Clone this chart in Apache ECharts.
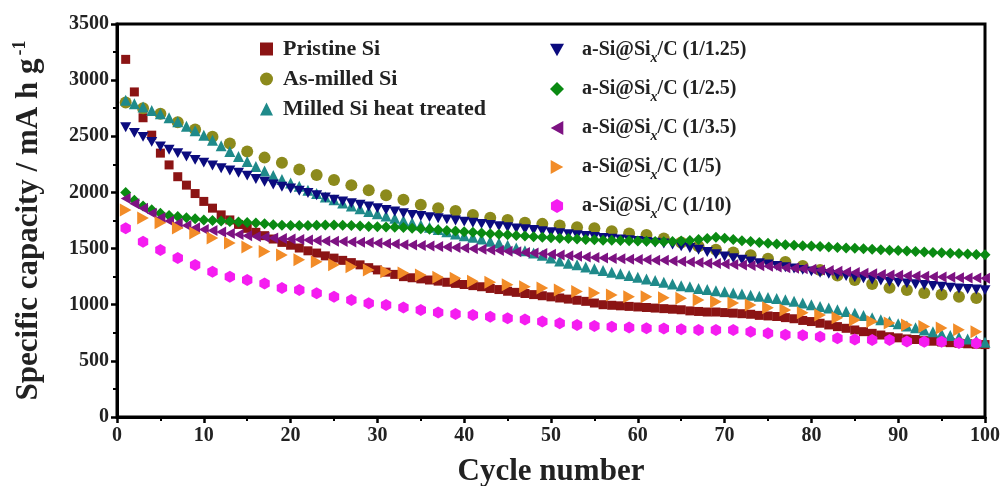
<!DOCTYPE html>
<html>
<head>
<meta charset="utf-8">
<script src="https://cdn.jsdelivr.net/npm/echarts@6/dist/echarts.min.js"></script>
<style>
  html, body { margin: 0; padding: 0; background: #fff; }
  #chart { width: 1005px; height: 486px; }
</style>
</head>
<body>
<div id="chart"></div>
<script>
// cycle numbers: every cycle, and every second cycle for the sparser series
const cycles = Array.from({ length: 100 }, (_, i) => i + 1)
const oddCycles = cycles.filter(c => c % 2 === 1)

const xTicks = [0, 10, 20, 30, 40, 50, 60, 70, 80, 90, 100]
const yTicks = [0, 500, 1000, 1500, 2000, 2500, 3000, 3500]

// capacity values (mA h g-1)
const pristineSi = [
  3185, 2895, 2665, 2510, 2350, 2245, 2140, 2065, 1990, 1920,
  1860, 1800, 1755, 1715, 1680, 1645, 1615, 1585, 1555, 1530,
  1505, 1480, 1460, 1435, 1415, 1395, 1375, 1355, 1330, 1310,
  1290, 1270, 1250, 1240, 1230, 1220, 1210, 1200, 1190, 1180,
  1170, 1160, 1145, 1135, 1120, 1110, 1100, 1090, 1080, 1070,
  1060, 1050, 1040, 1030, 1015, 1000, 995, 990, 985, 980,
  975, 970, 965, 960, 955, 945, 940, 935, 935, 930,
  925, 920, 915, 905, 900, 895, 885, 875, 860, 850,
  835, 820, 805, 790, 775, 760, 745, 730, 715, 705,
  695, 690, 680, 675, 668, 662, 657, 652, 648, 645
]
const asMilledSi = [
  2800, 2750, 2700, 2625, 2560, 2495, 2435, 2365, 2310, 2265,
  2205, 2155, 2110, 2065, 2020, 1975, 1935, 1890, 1860, 1835,
  1800, 1775, 1755, 1730, 1720, 1705, 1690, 1680, 1655, 1635,
  1620, 1590, 1555, 1520, 1490, 1465, 1440, 1410, 1380, 1345,
  1310, 1260, 1220, 1185, 1150, 1130, 1105, 1090, 1070, 1060
]
const milledHeatTreated = [
  2820, 2790, 2760, 2730, 2700, 2665, 2630, 2590, 2550, 2510,
  2465, 2415, 2365, 2320, 2275, 2230, 2190, 2150, 2115, 2085,
  2055, 2020, 1990, 1960, 1935, 1905, 1880, 1855, 1830, 1810,
  1790, 1770, 1750, 1730, 1710, 1690, 1670, 1650, 1630, 1615,
  1600, 1585, 1565, 1550, 1530, 1505, 1480, 1460, 1440, 1415,
  1390, 1370, 1355, 1335, 1320, 1305, 1290, 1275, 1260, 1245,
  1230, 1215, 1200, 1185, 1170, 1160, 1145, 1135, 1125, 1115,
  1105, 1095, 1085, 1075, 1065, 1055, 1045, 1030, 1015, 1000,
  985, 970, 955, 940, 925, 905, 885, 865, 850, 830,
  810, 795, 775, 760, 740, 725, 710, 695, 680, 665
]
const ratio1_125 = [
  2580, 2530, 2495, 2450, 2410, 2380, 2350, 2320, 2290, 2265,
  2240, 2215, 2195, 2175, 2150, 2120, 2095, 2070, 2050, 2035,
  2015, 1995, 1975, 1955, 1935, 1920, 1905, 1890, 1875, 1860,
  1845, 1830, 1815, 1800, 1790, 1780, 1770, 1760, 1750, 1740,
  1730, 1720, 1710, 1700, 1690, 1680, 1672, 1665, 1655, 1645,
  1636, 1628, 1620, 1612, 1603, 1595, 1588, 1581, 1574, 1567,
  1560, 1553, 1545, 1535, 1520, 1505, 1490, 1470, 1450, 1430,
  1415, 1400, 1385, 1370, 1358, 1346, 1334, 1322, 1310, 1297,
  1285, 1275, 1265, 1255, 1245, 1235, 1225, 1215, 1205, 1197,
  1190, 1182, 1175, 1167, 1160, 1152, 1145, 1140, 1135, 1130
]
const ratio1_25 = [
  2000, 1930, 1880, 1845, 1815, 1795, 1785, 1775, 1765, 1755,
  1750, 1745, 1740, 1737, 1733, 1727, 1720, 1713, 1708, 1705,
  1705, 1706, 1708, 1710, 1710, 1708, 1705, 1700, 1697, 1695,
  1693, 1690, 1687, 1682, 1677, 1672, 1667, 1662, 1656, 1650,
  1645, 1639, 1633, 1628, 1622, 1616, 1611, 1605, 1601, 1597,
  1593, 1589, 1585, 1581, 1578, 1575, 1573, 1571, 1569, 1567,
  1565, 1563, 1561, 1563, 1567, 1572, 1580, 1590, 1600, 1592,
  1580, 1570, 1562, 1555, 1548, 1541, 1535, 1530, 1526, 1522,
  1518, 1514, 1510, 1506, 1502, 1498, 1494, 1490, 1486, 1482,
  1478, 1474, 1470, 1466, 1462, 1458, 1455, 1451, 1448, 1445
]
const ratio1_35 = [
  1945, 1900, 1860, 1815, 1775, 1745, 1725, 1705, 1685, 1670,
  1660, 1648, 1635, 1625, 1615, 1607, 1600, 1595, 1590, 1585,
  1580, 1576, 1572, 1568, 1565, 1562, 1559, 1556, 1553, 1550,
  1545, 1540, 1535, 1531, 1527, 1522, 1518, 1514, 1509, 1505,
  1499, 1494, 1488, 1483, 1477, 1472, 1466, 1460, 1455, 1449,
  1443, 1437, 1431, 1425, 1420, 1415, 1412, 1409, 1406, 1403,
  1400, 1397, 1395, 1390, 1385, 1380, 1375, 1370, 1366, 1362,
  1358, 1354, 1350, 1346, 1342, 1336, 1330, 1325, 1320, 1315,
  1309, 1304, 1298, 1292, 1287, 1281, 1276, 1270, 1265, 1262,
  1259, 1256, 1253, 1250, 1247, 1244, 1241, 1239, 1237, 1235
]
const ratio1_5 = [
  1843, 1772, 1730, 1683, 1639, 1594, 1550, 1515, 1475, 1443,
  1400, 1383, 1355, 1338, 1310, 1294, 1282, 1265, 1245, 1235,
  1210, 1200, 1178, 1160, 1148, 1132, 1117, 1104, 1087, 1072,
  1070, 1062, 1058, 1042, 1027, 1015, 997, 972, 953, 928,
  908, 884, 864, 850, 837, 820, 805, 792, 776, 760
]
const ratio1_10 = [
  1680, 1561, 1487, 1415, 1354, 1294, 1250, 1220, 1190, 1148,
  1131, 1102, 1071, 1042, 1013, 997, 975, 953, 930, 917,
  908, 893, 879, 868, 850, 834, 820, 810, 804, 798,
  790, 788, 781, 775, 775, 775, 760, 745, 732, 728,
  715, 701, 690, 686, 685, 672, 671, 670, 658, 656
]

const FONT = '"Liberation Serif", "Times New Roman", serif'
const HEXAGON = 'path://M0,-1L0.866,-0.5L0.866,0.5L0,1L-0.866,0.5L-0.866,-0.5Z'
const TRI_DOWN = 'path://M-1,-0.9L1,-0.9L0,0.9Z'
const TRI_LEFT = 'path://M0.9,-1L0.9,1L-0.9,0Z'
const TRI_RIGHT = 'path://M-0.9,-1L-0.9,1L0.9,0Z'

const seriesDefs = [
  { name: 'Pristine Si', x: cycles, y: pristineSi, color: '#8b1414', symbol: 'rect', size: 9 },
  { name: 'As-milled Si', x: oddCycles, y: asMilledSi, color: '#8c8a1c', symbol: 'circle', size: 12 },
  { name: 'Milled Si heat treated', x: cycles, y: milledHeatTreated, color: '#1f8a8a', symbol: 'triangle', size: 11 },
  { name: 'a-Si@Six/C (1/1.25)', x: cycles, y: ratio1_125, color: '#0b0b7e', symbol: TRI_DOWN, size: 11 },
  { name: 'a-Si@Six/C (1/2.5)', x: cycles, y: ratio1_25, color: '#0a8a12', symbol: 'diamond', size: 11 },
  { name: 'a-Si@Six/C (1/3.5)', x: cycles, y: ratio1_35, color: '#7d1282', symbol: TRI_LEFT, size: 11 },
  { name: 'a-Si@Six/C (1/5)', x: oddCycles, y: ratio1_5, color: '#f28c28', symbol: TRI_RIGHT, size: 13 },
  { name: 'a-Si@Six/C (1/10)', x: oddCycles, y: ratio1_10, color: '#f51cf0', symbol: HEXAGON, size: 12 }
]

const chart = echarts.init(document.getElementById('chart'))

const labelStyle = {
  fontFamily: FONT,
  fontWeight: 'bold',
  color: '#222'
}

chart.setOption({
  animation: false,
  backgroundColor: '#fff',
  grid: {
    left: 117,
    right: 20,
    top: 24,
    bottom: 69,
    outerBoundsMode: 'none',
    show: true,
    borderColor: '#000',
    borderWidth: 3
  },
  legend: [
    {
      data: seriesDefs.slice(0, 3).map(s => s.name),
      orient: 'vertical',
      left: 255,
      top: 33,
      itemWidth: 13,
      itemHeight: 13,
      itemGap: 8,
      formatter: name => '{a|' + name + '}',
      textStyle: {
        ...labelStyle,
        fontSize: 22,
        rich: { a: { ...labelStyle, fontSize: 22, lineHeight: 23, padding: [0, 0, 0, 5] } }
      }
    },
    {
      data: seriesDefs.slice(3).map(s => s.name),
      orient: 'vertical',
      left: 545,
      top: 30,
      itemWidth: 14,
      itemHeight: 14,
      itemGap: 9,
      formatter: name => {
        const rest = name.replace('a-Si@Six', '')
        return '{a|a-Si@Si}{x|x}{b|' + rest + '}'
      },
      textStyle: {
        ...labelStyle,
        fontSize: 20,
        rich: {
          a: { ...labelStyle, fontSize: 20, lineHeight: 26, padding: [0, 0, 0, 13] },
          x: { ...labelStyle, fontSize: 14, fontStyle: 'italic', lineHeight: 26, padding: [16, 0, 0, 0] },
          b: { ...labelStyle, fontSize: 20, lineHeight: 26 }
        }
      }
    }
  ],
  xAxis: {
    type: 'value',
    min: 0,
    max: 100,
    interval: 10,
    name: 'Cycle number',
    nameLocation: 'middle',
    nameGap: 38,
    nameTextStyle: { ...labelStyle, fontSize: 31, lineHeight: 34 },
    axisLine: { lineStyle: { color: '#000', width: 3 } },
    axisTick: { inside: false, length: 6, lineStyle: { color: '#000', width: 2.5 } },
    minorTick: { show: true, splitNumber: 2, length: 4, lineStyle: { color: '#000', width: 2 } },
    splitLine: { show: false },
    axisLabel: { ...labelStyle, fontSize: 20, margin: 9, formatter: v => String(v) }
  },
  yAxis: {
    type: 'value',
    min: 0,
    max: 3500,
    interval: 500,
    name: '{a|Specific capacity / mA h g}{s|-1}',
    nameLocation: 'middle',
    nameGap: 70,
    nameRotate: 90,
    nameTextStyle: {
      rich: {
        a: { ...labelStyle, fontSize: 31, lineHeight: 36 },
        s: { ...labelStyle, fontSize: 18, verticalAlign: 'top', padding: [0, 0, 16, 3] }
      }
    },
    axisLine: { lineStyle: { color: '#000', width: 3 } },
    axisTick: { inside: false, length: 6, lineStyle: { color: '#000', width: 2.5 } },
    minorTick: { show: true, splitNumber: 2, length: 4, lineStyle: { color: '#000', width: 2 } },
    splitLine: { show: false },
    axisLabel: { ...labelStyle, fontSize: 20, margin: 8, formatter: v => String(v) }
  },
  series: seriesDefs.map(s => ({
    name: s.name,
    type: 'scatter',
    data: s.x.map((c, i) => [c, s.y[i]]),
    symbol: s.symbol,
    symbolSize: s.size,
    symbolKeepAspect: true,
    itemStyle: { color: s.color, opacity: 1 }
  }))
})
</script>
</body>
</html>
